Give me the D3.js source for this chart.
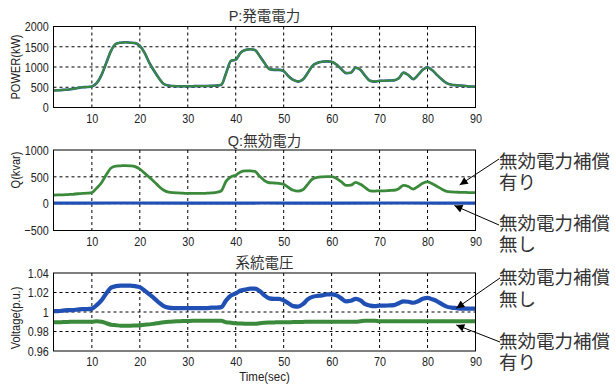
<!doctype html>
<html>
<head>
<meta charset="utf-8">
<style>
  body { margin: 0; background: #fff; }
  .tick-label { font-family: "Liberation Sans", Arial, sans-serif; font-size: 13.5px; fill: #222; }
  .axis-title { font-family: "Liberation Sans", Arial, sans-serif; font-size: 13.5px; fill: #222; }
  .panel-title { font-family: "Liberation Sans", "Noto Sans CJK JP", sans-serif; font-size: 14.5px; fill: #333; }
  .note { font-family: "Liberation Sans", "Noto Sans CJK JP", sans-serif; font-size: 18.5px; fill: #333; }
  .grid line { stroke: #000; stroke-width: 1; stroke-dasharray: 3,3; }
</style>
<script src="https://d3js.org/d3.v7.min.js"></script>
</head>
<body>
<svg width="615" height="384"></svg>
<script>
// time axis (sec), one sample per second
var times = d3.range(2, 91);
var xTicks = [10, 20, 30, 40, 50, 60, 70, 80, 90];

// P: generated power (kW) - both cases nearly identical
var pValues = [420, 425, 435, 440, 455, 480, 500, 505, 520, 600,
  800, 1100, 1400, 1570, 1600, 1610, 1600, 1590, 1520, 1350,
  1100, 900, 720, 580, 540, 530, 525, 525, 525, 525,
  530, 530, 530, 535, 540, 560, 850, 1150, 1180, 1350,
  1420, 1440, 1420, 1270, 1100, 950, 930, 930, 900, 770,
  680, 640, 690, 850, 1030, 1100, 1130, 1140, 1130, 1060,
  950, 850, 860, 980, 930, 780, 660, 640, 660, 660,
  665, 670, 720, 860, 800, 700, 800, 930, 990, 920,
  800, 690, 600, 560, 550, 540, 530, 520, 515];
var pTicks = [0, 500, 1000, 1500, 2000];

// Q: reactive power (kvar)
var qWith = [160, 165, 165, 170, 175, 185, 190, 195, 205, 290,
  390, 540, 665, 700, 705, 710, 705, 690, 645, 570,
  490, 410, 320, 250, 215, 205, 200, 195, 190, 190,
  190, 190, 195, 200, 210, 240, 420, 500, 530, 590,
  610, 610, 600, 510, 430, 390, 385, 380, 360, 300,
  250, 235, 260, 360, 460, 490, 500, 505, 505, 470,
  410, 340, 345, 395, 360, 300, 240, 235, 240, 240,
  245, 250, 280, 340, 320, 270, 320, 380, 405, 370,
  320, 270, 230, 220, 215, 210, 210, 205, 205];
var qWithoutT = [2, 15, 30, 45, 60, 75, 90];
var qWithout = [10, 12, 10, 12, 10, 12, 10];
var qTicks = [-500, 0, 500, 1000];

// V: grid voltage (p.u.)
var vWithout = [1.001, 1.001, 1.0015, 1.002, 1.002, 1.0025, 1.003, 1.003, 1.0035, 1.007,
  1.012, 1.019, 1.025, 1.0265, 1.027, 1.027, 1.027, 1.0265, 1.0255, 1.022,
  1.018, 1.014, 1.0095, 1.006, 1.0045, 1.004, 1.004, 1.004, 1.004, 1.004,
  1.004, 1.004, 1.004, 1.0045, 1.0045, 1.005, 1.012, 1.017, 1.019, 1.022,
  1.023, 1.024, 1.024, 1.0215, 1.017, 1.014, 1.0135, 1.0135, 1.012, 1.009,
  1.006, 1.0055, 1.008, 1.013, 1.0155, 1.0165, 1.017, 1.018, 1.018, 1.017,
  1.014, 1.011, 1.0115, 1.0135, 1.012, 1.008, 1.0065, 1.006, 1.0065, 1.0065,
  1.0067, 1.007, 1.009, 1.011, 1.0105, 1.0095, 1.011, 1.0135, 1.0145, 1.013,
  1.011, 1.008, 1.0055, 1.0045, 1.004, 1.0035, 1.0035, 1.0035, 1.0035];
var vWith = [0.9895, 0.9895, 0.9897, 0.9898, 0.99, 0.99, 0.99, 0.99, 0.99, 0.9905,
  0.99, 0.9885, 0.987, 0.9865, 0.986, 0.986, 0.986, 0.9862, 0.9865, 0.987,
  0.9873, 0.988, 0.9888, 0.9895, 0.99, 0.9903, 0.9905, 0.9907, 0.9908, 0.991,
  0.991, 0.991, 0.991, 0.991, 0.991, 0.991, 0.9895, 0.989, 0.9885, 0.9882,
  0.988, 0.988, 0.988, 0.9885, 0.989, 0.9892, 0.9893, 0.9895, 0.9895, 0.9895,
  0.9897, 0.9897, 0.9898, 0.99, 0.99, 0.99, 0.99, 0.99, 0.99, 0.99,
  0.99, 0.99, 0.99, 0.99, 0.9905, 0.991, 0.991, 0.991, 0.9905, 0.9905,
  0.9905, 0.9905, 0.9905, 0.9905, 0.9905, 0.9905, 0.9905, 0.9905, 0.9905, 0.9905,
  0.9905, 0.9905, 0.9905, 0.9905, 0.9905, 0.9905, 0.9905, 0.9905, 0.9905];
var vTicks = [0.96, 0.98, 1, 1.02, 1.04];

var green = "#3b8a3b", blue = "#2150b4";
var svg = d3.select("svg");
var x = d3.scaleLinear().domain([2, 90]).range([53.5, 475.5]);

// squeeze Arial-like labels to look like the narrow font of the original
function narrow(sel) { sel.attr("class", "tick-label").attr("font-family", null).attr("font-size", null).attr("transform", "scale(0.8,1)"); }

function panel(top, bottom, domain, yTicks, fmt, title, titleY, yLabel, yLabelY) {
  var y = d3.scaleLinear().domain(domain).range([bottom, top]);
  var g = svg.append("g");

  // grid
  var grid = g.append("g").attr("class", "grid");
  grid.selectAll(".vx").data(xTicks.filter(function(d) { return d < 90; }))
    .enter().append("line")
    .attr("x1", function(d) { return x(d); }).attr("x2", function(d) { return x(d); })
    .attr("y1", top).attr("y2", bottom);
  grid.selectAll(".hy").data(yTicks.filter(function(d) { return d > domain[0] && d < domain[1]; }))
    .enter().append("line")
    .attr("x1", x(2)).attr("x2", x(90))
    .attr("y1", function(d) { return y(d); }).attr("y2", function(d) { return y(d); });

  // axes (labels only, frame drawn separately)
  g.append("g").attr("transform", "translate(0," + bottom + ")")
    .call(d3.axisBottom(x).tickValues(xTicks).tickSize(0).tickPadding(3))
    .call(function(a) { a.select(".domain").remove(); })
    .selectAll("text").call(narrow).attr("dy", "0.9em");
  g.append("g").attr("transform", "translate(" + x(2) + ",0)")
    .call(d3.axisLeft(y).tickValues(yTicks).tickFormat(fmt).tickSize(0).tickPadding(6))
    .call(function(a) { a.select(".domain").remove(); })
    .selectAll("text").call(narrow);

  g.append("text").attr("class", "panel-title")
    .attr("x", (x(2) + x(90)) / 2).attr("y", titleY)
    .attr("text-anchor", "middle").text(title);
  g.append("text").attr("class", "axis-title")
    .attr("transform", "translate(20," + yLabelY + ") rotate(-90) scale(0.82,1)")
    .attr("text-anchor", "middle").text(yLabel);

  return { g: g, y: y, top: top, bottom: bottom };
}

function frame(p) {
  p.g.append("rect").attr("x", x(2)).attr("y", p.top)
    .attr("width", x(90) - x(2)).attr("height", p.bottom - p.top)
    .attr("fill", "none").attr("stroke", "#000").attr("stroke-width", 1);
}

function series(p, ts, vals, color, width) {
  var line = d3.line().curve(d3.curveMonotoneX)
    .x(function(d) { return x(d[0]); })
    .y(function(d) { return p.y(d[1]); });
  p.g.append("path").datum(d3.zip(ts, vals))
    .attr("d", line).attr("fill", "none")
    .attr("stroke", color).attr("stroke-width", width)
    .attr("stroke-linejoin", "round");
}

var p1 = panel(26.5, 107.5, [0, 2000], pTicks, d3.format("d"), "P:発電電力", 20.5, "POWER(kW)", 67);
series(p1, times, pValues, blue, 2.6);
series(p1, times, pValues, green, 2);
frame(p1);

var p2 = panel(150, 230.5, [-500, 1000], qTicks, d3.format("d"), "Q:無効電力", 146, "Q(kvar)", 170);
series(p2, qWithoutT, qWithout, blue, 3.2);
series(p2, times, qWith, green, 2.8);
frame(p2);

var p3 = panel(273, 351, [0.96, 1.04], vTicks, function(d) { return d === 1 ? "1" : d3.format(".2f")(d); }, "系統電圧", 268, "Voltage(p.u.)", 318);
series(p3, times, vWith, green, 4);
series(p3, times, vWithout, blue, 4.2);
frame(p3);

svg.append("text").attr("class", "axis-title")
  .attr("transform", "translate(" + (x(2) + x(90)) / 2 + ",381) scale(0.85,1)")
  .attr("text-anchor", "middle").text("Time(sec)");

// annotations
var noteLines = [["無効電力補償", "有り"], ["無効電力補償", "無し"], ["無効電力補償", "無し"], ["無効電力補償", "有り"]];
var noteTips = [[p2, 86.7, 350], [p2, 85.6, -35], [p3, 86, 1.0038], [p3, 86, 0.9867]];
var noteTails = [[499, 159], [499, 225], [500, 278], [500, 342]];
var noteY = [167.5, 229.5, 284, 347.5];

svg.append("defs").append("marker").attr("id", "arr")
  .attr("viewBox", "0 0 10 10").attr("refX", 10).attr("refY", 5)
  .attr("markerWidth", 10).attr("markerHeight", 8).attr("markerUnits", "userSpaceOnUse")
  .attr("orient", "auto")
  .append("path").attr("d", "M0,0L10,5L0,10Z").attr("fill", "#000");

noteLines.forEach(function(lines, i) {
  var tip = noteTips[i];
  svg.append("line")
    .attr("x1", noteTails[i][0]).attr("y1", noteTails[i][1])
    .attr("x2", x(tip[1])).attr("y2", tip[0].y(tip[2]))
    .attr("stroke", "#000").attr("stroke-width", 1)
    .attr("marker-end", "url(#arr)");
  var t = svg.append("text").attr("class", "note").attr("x", 499).attr("y", noteY[i]);
  lines.forEach(function(s, j) {
    t.append("tspan").attr("x", 499).attr("dy", j === 0 ? 0 : 21.5).text(s);
  });
});
</script>
</body>
</html>
